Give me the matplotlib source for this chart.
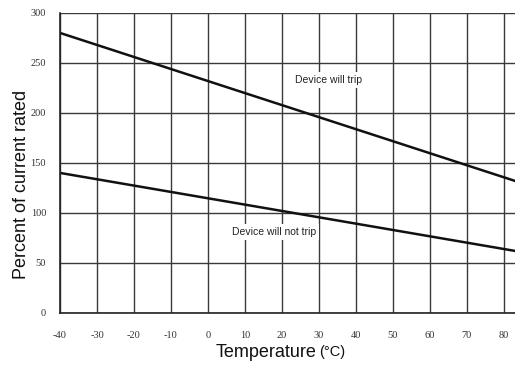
import matplotlib
matplotlib.use("Agg")
import matplotlib.pyplot as plt

# Data
temps = [-40, 83]
trip_curve = [280, 132]
no_trip_curve = [140, 62]
xticks = [-40, -30, -20, -10, 0, 10, 20, 30, 40, 50, 60, 70, 80]
yticks = [0, 50, 100, 150, 200, 250, 300]

fig = plt.figure(figsize=(5.15, 3.69), dpi=100)
ax = fig.add_axes([0.1165, 0.152, 0.8835, 0.813])
ax.set_xlim(-40, 83)
ax.set_ylim(0, 300)

ax.set_xticks(xticks)
ax.set_yticks(yticks)
ax.set_xticklabels([str(t) for t in xticks], fontsize=7.5, family="Liberation Serif", color="#333333")
ax.set_yticklabels([str(t) for t in yticks], fontsize=7.5, family="Liberation Serif", color="#333333")
ax.tick_params(axis="x", length=0, pad=13)
ax.tick_params(axis="y", length=0, pad=10)

ax.grid(True, color="#3a3a3a", linewidth=1.0)
ax.set_axisbelow(True)
for s in ["top", "right"]:
    ax.spines[s].set_visible(False)
for s in ["left", "bottom"]:
    ax.spines[s].set_color("#222222")
    ax.spines[s].set_linewidth(1.2)

ax.plot(temps, trip_curve, color="#111111", linewidth=1.8)
ax.plot(temps, no_trip_curve, color="#111111", linewidth=1.8)

ax.text(32.5, 233, "Device will trip", fontsize=7.5, family="Liberation Sans", ha="center", va="center",
        color="#222222", bbox=dict(facecolor="white", edgecolor="none", pad=2))
ax.text(18, 81, "Device will not trip", fontsize=7.5, family="Liberation Sans", ha="center", va="center",
        color="#222222", bbox=dict(facecolor="white", edgecolor="none", pad=2))

fig.text(0.615, 0.045, "Temperature", fontsize=13, family="Liberation Sans", ha="right", va="center", color="#111111")
fig.text(0.62, 0.045, "(°C)", fontsize=10.5, family="Liberation Sans", ha="left", va="center", color="#111111")
fig.text(0.042, 0.5, "Percent of current rated", fontsize=13, family="Liberation Sans", rotation=90,
         ha="center", va="center", color="#111111")

fig.savefig("out.png", dpi=100)
